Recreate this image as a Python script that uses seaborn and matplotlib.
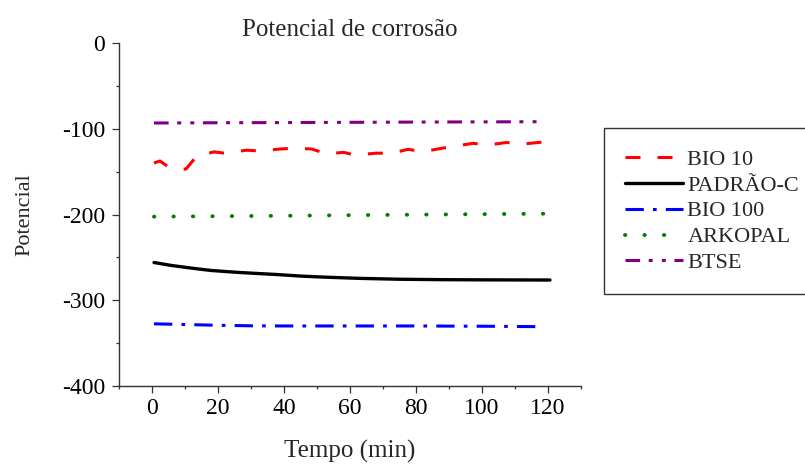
import numpy as np
import pandas as pd
import matplotlib
matplotlib.use("Agg")
import matplotlib.pyplot as plt
import seaborn as sns

# Corrosion potential over time for each coating
t_bio10 = [0.6, 2.4, 4.8, 7.5, 10.3, 13.5, 18.8, 22, 28.7, 33, 38.8, 42.8, 48.4, 53, 58,
           61.5, 68, 72.6, 77.6, 82, 87.8, 92.3, 97.3, 101.8, 107.5, 112, 117.6, 120.6]
v_bio10 = [-140, -137.6, -144, -147, -147, -132, -127, -128.5, -125, -126, -123.6, -122.8,
           -123.6, -129.4, -127.5, -130.6, -128.5, -128.5, -124, -126.7, -122.8, -120,
           -117, -119, -116, -118, -115.8, -113.5]

t_padrao = [0.6, 6, 12.5, 18, 25.6, 32, 37.8, 45, 52, 63, 75, 88, 100, 110, 120.6]
v_padrao = [-256, -259.5, -262.8, -265.3, -267.4, -268.8, -270, -271.8, -273, -274.5,
            -275.5, -276, -276.2, -276.3, -276.4]

t_bio100 = [0.6, 10, 20, 30, 40, 60, 80, 100, 118]
v_bio100 = [-327.5, -328.3, -329.2, -329.8, -330, -330, -330, -330.3, -330.8]

t_arkopal = [0.6, 20, 40, 60, 80, 100, 120.6]
v_arkopal = [-202.5, -202, -201.5, -200.8, -200.2, -199.6, -199]

t_btse = [0.6, 20, 40, 60, 80, 100, 118]
v_btse = [-93.3, -93, -92.8, -92.5, -92.2, -92, -91.8]

labels = ["BIO 10", "PADRÃO-C", "BIO 100", "ARKOPAL", "BTSE"]
colors = ["#ff0000", "#000000", "#0000ff", "#008000", "#800080"]

sns.set_style("ticks")
plt.rcParams["font.family"] = ["Liberation Serif", "DejaVu Serif"]

fig = plt.figure(figsize=(8.05, 4.65), dpi=100)
ax = fig.add_axes([119 / 805, 1 - 386 / 465, (581 - 119) / 805, (386 - 43) / 465])

series = [
    (t_bio10, v_bio10, dict(lw=2.2, linestyle=(0, (4.9, 5.6)))),
    (t_padrao, v_padrao, dict(lw=2.4, linestyle="-")),
    (t_bio100, v_bio100, dict(lw=2.2, linestyle=(0, (6, 3, 1.2, 3)))),
    (t_arkopal, v_arkopal, dict(lw=2.8, linestyle=(0, (0.1, 4.9)), dash_capstyle="round")),
    (t_btse, v_btse, dict(lw=2.2, linestyle=(0, (4.8, 2.8, 1.3, 3, 1.3, 2.8)))),
]

for (tx, vy, style), lab, col in zip(series, labels, colors):
    sns.lineplot(x=tx, y=vy, ax=ax, color=col, label=lab, sort=False,
                 estimator=None, **style)

ax.set_xlim(-10, 130)
ax.set_ylim(-400, 0)
ax.set_xticks([0, 20, 40, 60, 80, 100, 120])
ax.set_xticks(np.arange(-10, 131, 10), minor=True)
ax.set_yticks([0, -100, -200, -300, -400])
ax.set_yticks(np.arange(-350, 0, 100), minor=True)
ax.set_yticklabels(["0", "-100", "-200", "-300", "-400"])

for side in ["top", "right"]:
    ax.spines[side].set_visible(False)
for side in ["left", "bottom"]:
    ax.spines[side].set_color("#333333")
    ax.spines[side].set_linewidth(1.0)

ax.tick_params(which="major", length=5, width=0.9, color="#333333",
               labelsize=17, labelcolor="black", direction="out")
ax.tick_params(axis="y", which="major", pad=5)
ax.tick_params(axis="x", which="major", pad=4)
ax.tick_params(which="minor", length=2.5, width=0.9, color="#333333", direction="out")

ax.set_title("Potencial de corrosão", fontsize=18, pad=5)
ax.set_xlabel("Tempo (min)", fontsize=18, labelpad=15)
ax.set_ylabel("Potencial", fontsize=16, labelpad=20)

ax.get_legend().remove()
handles, labs = ax.get_legend_handles_labels()
leg = fig.legend(handles, labs, loc="upper left",
                 bbox_to_anchor=(604 / 805, 1 - 128 / 465),
                 bbox_transform=fig.transFigure, borderaxespad=0,
                 fontsize=16, frameon=True, fancybox=False, framealpha=1,
                 handlelength=2.6, handletextpad=0.2, labelspacing=0.24,
                 borderpad=0.95)
leg.get_frame().set_edgecolor("#333333")
leg.get_frame().set_linewidth(1.0)

fig.savefig("out.png", dpi=100, facecolor="white")
